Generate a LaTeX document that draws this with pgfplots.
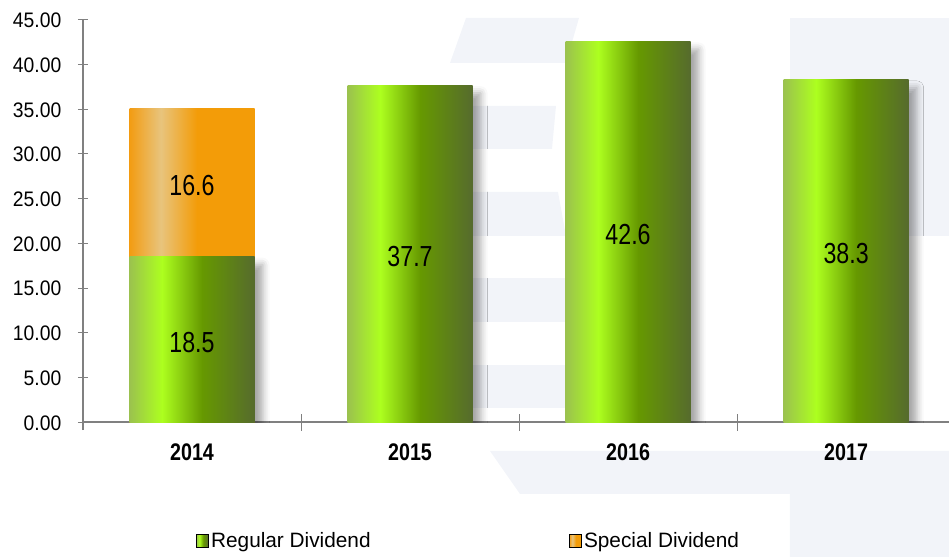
\documentclass[border=0pt]{standalone}
\usepackage{pgfplots}
\pgfplotsset{compat=1.18}
\usepackage{fontspec}
\setmainfont{Liberation Sans}
\newfontfamily\tickfont{Liberation Sans}[FakeStretch=0.92]
\newfontfamily\legfont{Liberation Sans}
\newfontfamily\xfont{Liberation Sans}[FakeStretch=0.82]
\newfontfamily\barfont{Liberation Sans}[FakeStretch=0.8]
\usetikzlibrary{shadows.blur}

\definecolor{g1}{RGB}{155,194,78}
\definecolor{g2}{RGB}{173,255,31}
\definecolor{g3}{RGB}{102,153,0}
\definecolor{g4}{RGB}{86,107,45}
\definecolor{o1}{RGB}{243,156,18}
\definecolor{o2}{RGB}{232,196,125}
\definecolor{o3}{RGB}{243,156,8}
\definecolor{axisgray}{RGB}{128,128,128}
\definecolor{wm}{RGB}{242,244,249}

\pgfdeclarehorizontalshading{greenbar}{100bp}{color(0bp)=(g1); color(25bp)=(g1); color(38bp)=(g2); color(54bp)=(g3); color(75bp)=(g4); color(100bp)=(g4)}
\pgfdeclarehorizontalshading{orangebar}{100bp}{color(0bp)=(o1); color(25bp)=(o1); color(37.5bp)=(o2); color(52bp)=(o3); color(100bp)=(o3)}

\pgfplotsset{
  greenbar/.style={ybar, bar width=125bp, bar shift=0pt, draw=none, shading=greenbar, forget plot,
    blur shadow={shadow xshift=8bp, shadow yshift=-8bp, shadow blur radius=7bp, shadow opacity=35}},
}

\begin{document}
\begin{tikzpicture}
\useasboundingbox (-83bp,-135bp) rectangle (866bp,422bp);
% faint watermark in the background (image pixel coordinates)
\begin{scope}[shift={(-83bp,422bp)}, x=1bp, y=-1bp]
  \fill[wm] (466,18) -- (579,18) -- (566,63) -- (450,63) -- cycle;
  \fill[wm] (420,106) -- (556,106) -- (552,149) -- (420,149) -- cycle;
  \fill[wm] (420,192) -- (558,192) -- (566,236) -- (420,236) -- cycle;
  \fill[wm] (420,278) rectangle (566,322);
  \fill[wm] (420,365) rectangle (566,408);
  \fill[wm] (790,18) rectangle (949,236);
  \fill[wm] (490,451) -- (949,451) -- (949,557) -- (790,557) -- (790,494) -- (520,494) -- cycle;
\end{scope}
\begin{axis}[
  at={(0,0)}, anchor=south west,
  scale only axis, width=866bp, height=402bp,
  xmin=-0.5, xmax=3.472, ymin=0, ymax=45,
  axis lines*=left,
  axis line style={draw=axisgray, line width=1.1bp},
  y axis line style={shorten <=-8bp},
  tick style={draw=axisgray, line width=1bp},
  major tick length=10bp, tick align=center,
  ytick={0,5,...,45},
  /pgf/number format/.cd, fixed, fixed zerofill, precision=2, assume math mode=true,
  /pgfplots/.cd,
  yticklabel style={font=\tickfont\fontsize{21bp}{21bp}\selectfont, anchor=base east, inner sep=0pt, xshift=-16.5bp, yshift=-8bp},
  xtick={0,1,2,3},
  xticklabels={2014,2015,2016,2017},
  x tick style={draw=none},
  xticklabel style={font=\xfont\bfseries\fontsize{24bp}{24bp}\selectfont, anchor=base, inner sep=0pt, yshift=-33bp},
  extra x ticks={0.5,1.5,2.5},
  extra x tick labels={},
  extra x tick style={major tick length=17bp, tick align=center, /pgfplots/every x tick/.style={draw=axisgray, line width=1bp}},
  legend columns=2,
  legend style={at={(axis description cs:0.1305,-0.296)}, anchor=west, draw=none, fill=none,
    inner sep=0pt, font=\legfont\fontsize{20.8bp}{21bp}\selectfont,
    nodes={inner sep=2.5bp},
    /tikz/every even column/.append style={column sep=196bp}},
]
\addlegendimage{legend image code/.code={\shade[shading=greenbar] (0bp,-6.5bp) rectangle (12bp,6.5bp);}}
\addlegendentry{Regular Dividend}
\addlegendimage{legend image code/.code={\shade[shading=orangebar] (0bp,-6.5bp) rectangle (12bp,6.5bp);}}
\addlegendentry{Special Dividend}

% Special dividend (2014 total = 18.5 + 16.6)
\addplot[ybar, bar width=125bp, bar shift=0pt, draw=none, shading=orangebar, forget plot]
  coordinates {(0,35.1)};
% Regular dividend, one bar per year so each gets its own gradient
\addplot[greenbar] coordinates {(0,18.5)};
\addplot[greenbar] coordinates {(1,37.7)};
\addplot[greenbar] coordinates {(2,42.6)};
\addplot[greenbar] coordinates {(3,38.3)};
% value labels at the middle of each segment
\addplot[draw=none, mark=none, forget plot, nodes near coords, point meta=explicit symbolic,
  nodes near coords style={anchor=center, font=\barfont\fontsize{29bp}{29bp}\selectfont, text=black, yshift=-3bp}]
  coordinates {(0,9.25)[18.5] (0,26.8)[16.6] (1,18.85)[37.7] (2,21.3)[42.6] (3,19.15)[38.3]};
\end{axis}
\end{tikzpicture}
\end{document}
